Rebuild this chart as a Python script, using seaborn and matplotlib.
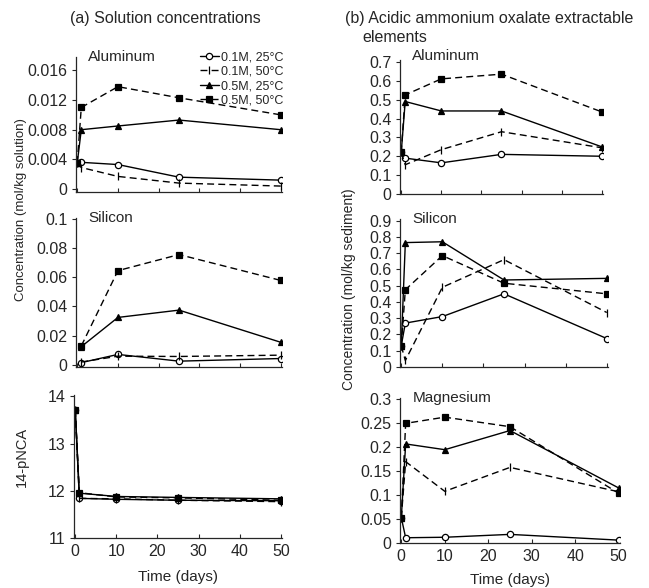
import matplotlib

matplotlib.use("Agg")

import matplotlib.pyplot as plt
import seaborn as sns
from matplotlib.ticker import FuncFormatter

sns.set_style("ticks")
plt.rcParams["font.family"] = ["Liberation Sans", "DejaVu Sans"]

# ---- data ----
series_labels = ["0.1M, 25°C", "0.1M, 50°C", "0.5M, 25°C", "0.5M, 50°C"]

# (a) solution concentrations
days_al_sol = [0, 1, 10, 25, 50]
al_sol_01_25 = [0.0035, 0.0036, 0.0033, 0.0016, 0.0012]
al_sol_01_50 = [0.0035, 0.0029, 0.0017, 0.0008, 0.0004]
al_sol_05_25 = [0.0035, 0.0080, 0.0085, 0.0093, 0.0080]
al_sol_05_50 = [0.0035, 0.0110, 0.0138, 0.0123, 0.0100]

days_si_sol = [1, 10, 25, 50]
si_sol_01_25 = [0.0016, 0.0072, 0.0026, 0.0044]
si_sol_01_50 = [0.0020, 0.0060, 0.0058, 0.0067]
si_sol_05_25 = [0.0125, 0.0325, 0.0375, 0.0155]
si_sol_05_50 = [0.0130, 0.0645, 0.0755, 0.0578]

days_pnca = [0, 1, 10, 25, 50]
pnca_01_25 = [13.72, 11.84, 11.82, 11.80, 11.79]
pnca_01_50 = [13.72, 11.84, 11.83, 11.80, 11.77]
pnca_05_25 = [13.72, 11.95, 11.88, 11.86, 11.83]
pnca_05_50 = [13.72, 11.96, 11.87, 11.85, 11.80]

# (b) acidic ammonium oxalate extractable elements
days_sed = [0, 1, 10, 25, 50]
al_sed_01_25 = [0.22, 0.19, 0.165, 0.21, 0.20]
al_sed_01_50 = [0.22, 0.155, 0.235, 0.33, 0.245]
al_sed_05_25 = [0.22, 0.49, 0.44, 0.44, 0.25]
al_sed_05_50 = [0.22, 0.525, 0.61, 0.635, 0.435]

si_sed_01_25 = [0.13, 0.27, 0.31, 0.45, 0.175]
si_sed_01_50 = [0.13, 0.04, 0.49, 0.66, 0.335]
si_sed_05_25 = [0.13, 0.765, 0.77, 0.535, 0.545]
si_sed_05_50 = [0.13, 0.475, 0.685, 0.515, 0.45]

mg_sed_01_25 = [0.053, 0.011, 0.012, 0.018, 0.006]
mg_sed_01_50 = [0.053, 0.17, 0.108, 0.158, 0.107]
mg_sed_05_25 = [0.053, 0.207, 0.195, 0.235, 0.115]
mg_sed_05_50 = [0.053, 0.25, 0.263, 0.243, 0.104]

# line style per series: (marker, linestyle, facecolor, size)
DASH = (0, (5, 3))
STYLES = [
    ("o", "-", "white", 4.5),
    ("|", DASH, "black", 6),
    ("^", "-", "black", 4.5),
    ("s", DASH, "black", 4.5),
]


def draw_panel(ax, days, values, ylim, yticks, xlim=(-0.3, 50.3), show_xlabels=False):
    for vals, (marker, ls, face, size), label in zip(values, STYLES, series_labels):
        sns.lineplot(
            x=days, y=vals, ax=ax, color="black", linewidth=1.0, linestyle=ls,
            marker=marker, markersize=size, markerfacecolor=face,
            markeredgecolor="black", markeredgewidth=0.9, label=label,
            legend=False, dashes=False,
        )
    ax.set_xlim(*xlim)
    ax.set_ylim(*ylim)
    ax.set_yticks(yticks)
    ax.yaxis.set_major_formatter(FuncFormatter(lambda v, _: f"{v:g}"))
    ax.set_xticks([0, 10, 20, 30, 40, 50])
    if not show_xlabels:
        ax.set_xticklabels([])
    ax.tick_params(axis="y", direction="out", length=3, labelsize=11.5, pad=3)
    ax.tick_params(axis="x", direction="in", length=3, labelsize=11.5, pad=4)
    sns.despine(ax=ax)
    ax.set_xlabel("")
    ax.set_ylabel("")
    for spine in ax.spines.values():
        spine.set_linewidth(0.9)


W, H = 649, 588
fig = plt.figure(figsize=(W / 100, H / 100), dpi=100)


def add_axes(x0, x1, top, bottom):
    return fig.add_axes([x0 / W, 1 - bottom / H, (x1 - x0) / W, (bottom - top) / H])


ax_al_sol = add_axes(76, 282, 57, 192)
ax_si_sol = add_axes(76, 282, 218, 367)
ax_pnca = add_axes(74, 282, 395, 538)
ax_al_sed = add_axes(400, 603, 60, 194)
ax_si_sed = add_axes(400, 608, 219, 367)
ax_mg_sed = add_axes(400, 620, 398, 543)

draw_panel(ax_al_sol, days_al_sol, [al_sol_01_25, al_sol_01_50, al_sol_05_25, al_sol_05_50],
           (-0.0004, 0.0178), [0, 0.004, 0.008, 0.012, 0.016])
draw_panel(ax_si_sol, days_si_sol, [si_sol_01_25, si_sol_01_50, si_sol_05_25, si_sol_05_50],
           (-0.0014, 0.1005), [0, 0.02, 0.04, 0.06, 0.08, 0.1])
draw_panel(ax_pnca, days_pnca, [pnca_01_25, pnca_01_50, pnca_05_25, pnca_05_50],
           (11, 14.03), [11, 12, 13, 14], show_xlabels=True)
draw_panel(ax_al_sed, days_sed, [al_sed_01_25, al_sed_01_50, al_sed_05_25, al_sed_05_50],
           (0, 0.71), [0, 0.1, 0.2, 0.3, 0.4, 0.5, 0.6, 0.7])
draw_panel(ax_si_sed, days_sed, [si_sed_01_25, si_sed_01_50, si_sed_05_25, si_sed_05_50],
           (0, 0.91), [0, 0.1, 0.2, 0.3, 0.4, 0.5, 0.6, 0.7, 0.8, 0.9])
draw_panel(ax_mg_sed, days_sed, [mg_sed_01_25, mg_sed_01_50, mg_sed_05_25, mg_sed_05_50],
           (0, 0.303), [0, 0.05, 0.1, 0.15, 0.2, 0.25, 0.3], show_xlabels=True)

# element names inside panels
for ax, name, dy in [(ax_al_sol, "Aluminum", 0.0), (ax_si_sol, "Silicon", 0.0),
                     (ax_al_sed, "Aluminum", 0.03), (ax_si_sed, "Silicon", 0.0),
                     (ax_mg_sed, "Magnesium", 0.0)]:
    ax.text(0.06, 1.0 + dy, name, transform=ax.transAxes, ha="left", va="center", fontsize=11)

ax_al_sol.legend(loc="upper right", bbox_to_anchor=(1.03, 1.08), frameon=False,
                 fontsize=9, handlelength=1.5, handletextpad=0.15, labelspacing=0.2,
                 borderaxespad=0)

# titles and shared axis labels
fig.text(165 / W, 1 - 18 / H, "(a) Solution concentrations", ha="center", va="center", fontsize=11.5)
fig.text(345 / W, 1 - 18 / H, "(b) Acidic ammonium oxalate extractable", ha="left", va="center", fontsize=11.5)
fig.text(362 / W, 1 - 37 / H, "elements", ha="left", va="center", fontsize=11.5)
fig.text(21 / W, 1 - 210 / H, "Concentration (mol/kg solution)", rotation=90,
         ha="center", va="center", fontsize=9.5)
fig.text(22 / W, 1 - 457 / H, "14-pNCA", rotation=90, ha="center", va="center", fontsize=10.5)
fig.text(349 / W, 1 - 289 / H, "Concentration (mol/kg sediment)", rotation=90,
         ha="center", va="center", fontsize=10)
fig.text(178 / W, 1 - 577 / H, "Time (days)", ha="center", va="center", fontsize=11)
fig.text(510 / W, 1 - 580 / H, "Time (days)", ha="center", va="center", fontsize=11)

fig.savefig("out.png", dpi=100)
